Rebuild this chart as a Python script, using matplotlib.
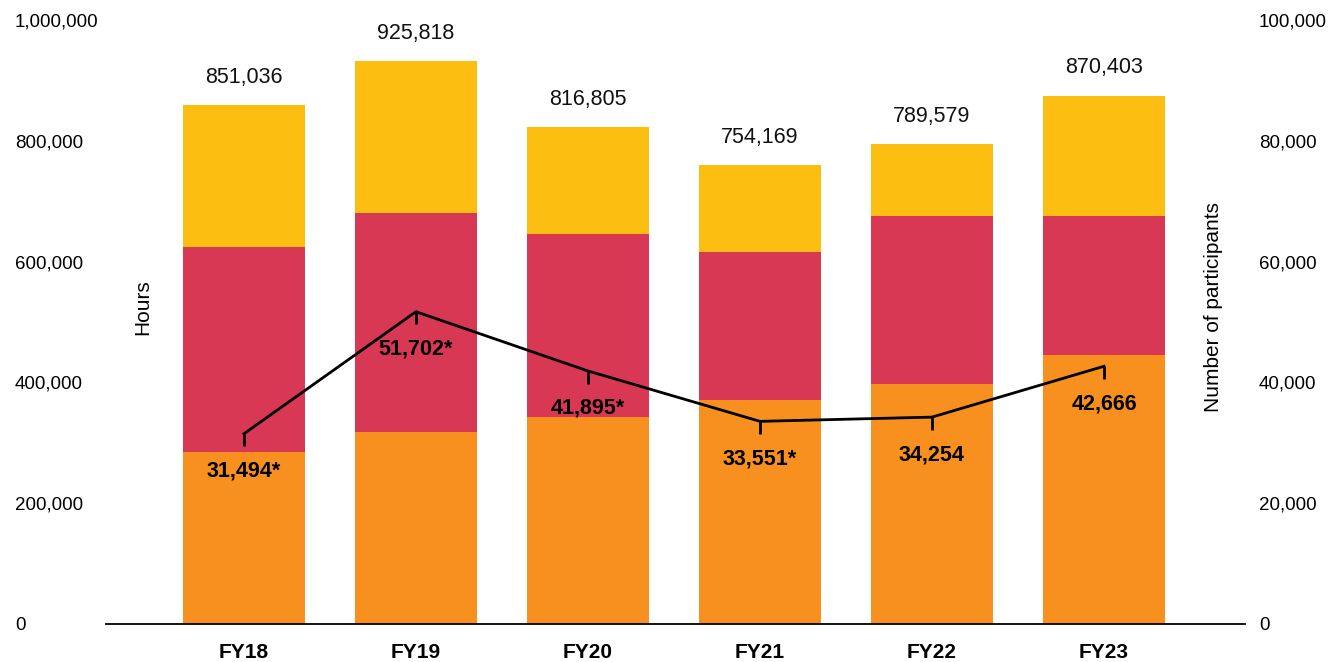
import matplotlib.pyplot as plt
from matplotlib.ticker import FuncFormatter

plt.rcParams['font.family'] = ['Liberation Sans', 'DejaVu Sans']

# === Data ===
years = ['FY18', 'FY19', 'FY20', 'FY21', 'FY22', 'FY23']
hours_orange = [285000, 318000, 343000, 371000, 397000, 445000]
hours_red = [339000, 363000, 303000, 245000, 278000, 230000]
hours_yellow = [235000, 251000, 177000, 144000, 119000, 200000]
total_labels = ['851,036', '925,818', '816,805', '754,169', '789,579', '870,403']
participants = [31494, 51702, 41895, 33551, 34254, 42666]
part_labels = ['31,494*', '51,702*', '41,895*', '33,551*', '34,254', '42,666']

c_orange = '#F7901E'
c_red = '#D83854'
c_yellow = '#FDBE12'

fig = plt.figure(figsize=(13.3, 6.62), dpi=100)
ax = fig.add_axes([106 / 1330, 1 - 624 / 662, (1245 - 106) / 1330, 604 / 662])

x = list(range(len(years)))
w = 0.71
bottom2 = [a + b for a, b in zip(hours_orange, hours_red)]
tops = [a + b for a, b in zip(bottom2, hours_yellow)]

ax.bar(x, hours_orange, w, color=c_orange, zorder=2)
ax.bar(x, hours_red, w, bottom=hours_orange, color=c_red, zorder=2)
ax.bar(x, hours_yellow, w, bottom=bottom2, color=c_yellow, zorder=2)

for xi, t, lab in zip(x, tops, total_labels):
    ax.annotate(lab, (xi, t), xytext=(0, 20), textcoords='offset points',
                ha='center', va='center', fontsize=15.5, color='#111111')

ax.set_xlim(-0.802, 5.82)
ax.set_ylim(0, 1000000)
ax.set_yticks(range(0, 1000001, 200000))
ax.yaxis.set_major_formatter(FuncFormatter(lambda v, p: f'{int(v):,}'))
ax.set_xticks(x)
ax.set_xticklabels(years, fontsize=15, fontweight='bold')
ax.tick_params(axis='x', length=0, pad=14)
ax.tick_params(axis='y', length=0, labelsize=13.5, pad=0)
for lab in ax.get_yticklabels():
    lab.set_horizontalalignment('left')
    lab.set_x(-91 / (1245 - 106))
for s in ['top', 'right', 'left']:
    ax.spines[s].set_visible(False)
ax.spines['bottom'].set_linewidth(1.3)
ax.spines['bottom'].set_zorder(3)
ax.set_ylabel('Hours', fontsize=15)
ax.yaxis.set_label_coords(46 / (1245 - 106), 0.525)

# === Participants line ===
ax2 = ax.twinx()
ax2.set_ylim(0, 100000)
ax2.set_yticks(range(0, 100001, 20000))
ax2.yaxis.set_major_formatter(FuncFormatter(lambda v, p: f'{int(v):,}'))
ax2.tick_params(axis='y', length=0, labelsize=13.5, pad=10)
for s in ['top', 'right', 'left', 'bottom']:
    ax2.spines[s].set_visible(False)
ax2.plot(x, participants, color='black', lw=2, zorder=4)
ax2.vlines(x, [p - 2100 for p in participants], participants, color='black', lw=2, zorder=4)
for xi, p, lab in zip(x, participants, part_labels):
    ax2.annotate(lab, (xi, p), xytext=(0, -27), textcoords='offset points',
                 ha='center', va='center', fontsize=15.5, fontweight='bold')
ax2.set_ylabel('Number of participants', fontsize=15)
ax2.yaxis.set_label_coords(1 - 41 / (1245 - 106), 0.525)

fig.savefig('out.png', dpi=100)
